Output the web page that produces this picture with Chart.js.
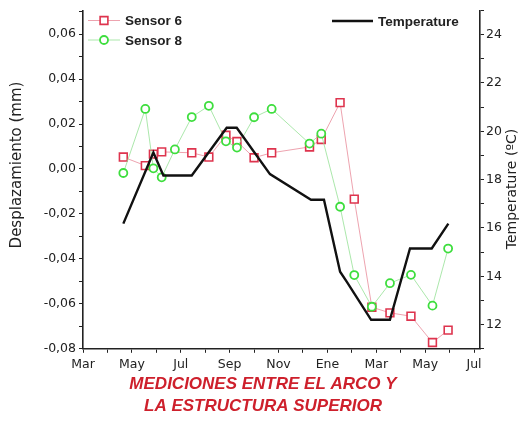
<!DOCTYPE html>
<html>
<head>
<meta charset="utf-8">
<script src="https://cdn.jsdelivr.net/npm/chart.js@4.4.1/dist/chart.umd.min.js"></script>
<style>
  body { margin: 0; background: #fff; }
  canvas { display: block; }
</style>
</head>
<body>
<canvas id="myChart" width="526" height="423"></canvas>
<script>
// months counted from January of the first year (Mar = 3, Ene = 13, ...)
var sensorMonths = [4.65, 5.55, 5.88, 6.22, 6.76, 7.45, 8.15, 8.85, 9.3, 10.0,
  10.72, 12.27, 12.75, 13.52, 14.1, 14.82, 15.56, 16.42, 17.3, 17.94];
var sensor6 = [0.0053, 0.0015, 0.0066, 0.0076, null, 0.0072, 0.0053, 0.015, 0.0122, 0.005,
  0.0072, 0.0098, 0.0131, 0.0295, -0.0134, -0.0615, -0.064, -0.0655, -0.0772, -0.0717];
var sensor8 = [-0.0018, 0.0267, 0.0003, -0.0037, 0.0087, 0.0231, 0.0281, 0.0123, 0.0095, 0.023,
  0.0267, 0.0113, 0.0157, -0.0168, -0.0472, -0.0613, -0.0508, -0.0471, -0.0608, -0.0354];

var tempMonths = [4.65, 5.88, 6.29, 7.45, 8.88, 9.29, 10.65, 12.33, 12.86, 13.52, 13.79,
  14.79, 15.56, 16.38, 17.27, 17.95];
var temperature = [16.18, 19.12, 18.17, 18.17, 20.15, 20.15, 18.23, 17.17, 17.17, 14.19, 13.78,
  12.2, 12.2, 15.15, 15.15, 16.18];

var xTickMonths = [3, 5, 7, 9, 11, 13, 15, 17, 19];
var xTickLabels = ['Mar', 'May', 'Jul', 'Sep', 'Nov', 'Ene', 'Mar', 'May', 'Jul'];

var yTitle = 'Desplazamiento (mm)';
var y2Title = 'Temperature (\u00baC)';
var chartTitle = ['MEDICIONES ENTRE EL ARCO Y', 'LA ESTRUCTURA SUPERIOR'];

function toPoints(xs, ys) {
  var pts = [];
  for (var i = 0; i < xs.length; i++) {
    pts.push({ x: xs[i], y: ys[i] });
  }
  return pts;
}

var RED = 'rgb(222, 52, 78)';
var GREEN = 'rgb(62, 222, 62)';
var tickFont = { family: 'DejaVu Sans', size: 12.5 };

// axis titles and the two legend boxes drawn inside the plot
var overlay = {
  id: 'overlay',
  afterDraw: function (chart) {
    var ctx = chart.ctx;
    ctx.save();
    ctx.fillStyle = '#222';
    ctx.textAlign = 'center';
    ctx.textBaseline = 'middle';
    ctx.font = '15px "DejaVu Sans"';
    ctx.save();
    ctx.translate(17, 165);
    ctx.rotate(-Math.PI / 2);
    ctx.fillText(yTitle, 0, 0);
    ctx.restore();
    ctx.save();
    ctx.translate(512, 189);
    ctx.rotate(-Math.PI / 2);
    ctx.font = '14px "DejaVu Sans"';
    ctx.fillText(y2Title, 0, 0);
    ctx.restore();

    var entries = [
      { ds: 1, x: 88, y: 20.5, len: 32 },
      { ds: 2, x: 88, y: 40, len: 32 },
      { ds: 0, x: 332, y: 21, len: 41 }
    ];
    ctx.textAlign = 'left';
    ctx.font = 'bold 13.5px "Liberation Sans"';
    entries.forEach(function (e) {
      var ds = chart.data.datasets[e.ds];
      ctx.strokeStyle = ds.borderColor;
      ctx.lineWidth = ds.borderWidth;
      ctx.beginPath();
      ctx.moveTo(e.x, e.y);
      ctx.lineTo(e.x + e.len, e.y);
      ctx.stroke();
      if (ds.pointRadius > 0) {
        ctx.fillStyle = '#fff';
        ctx.strokeStyle = ds.pointBorderColor;
        ctx.lineWidth = ds.pointBorderWidth;
        Chart.helpers.drawPoint(ctx, {
          pointStyle: ds.pointStyle, radius: ds.pointRadius, rotation: 0,
          borderWidth: ds.pointBorderWidth
        }, e.x + e.len / 2, e.y);
      }
      ctx.fillStyle = '#222';
      ctx.fillText(ds.label, e.x + e.len + 5, e.y + 1);
    });
    ctx.restore();
  }
};

new Chart(document.getElementById('myChart'), {
  type: 'line',
  data: {
    datasets: [{
      label: 'Temperature',
      data: toPoints(tempMonths, temperature),
      yAxisID: 'y2',
      borderColor: '#111',
      borderWidth: 2.4,
      pointRadius: 0,
      tension: 0,
      order: 1
    }, {
      label: 'Sensor 6',
      data: toPoints(sensorMonths, sensor6),
      yAxisID: 'y',
      borderColor: 'rgba(232, 140, 155, 0.8)',
      borderWidth: 1,
      pointStyle: 'rect',
      pointRadius: 5.5,
      pointBorderColor: RED,
      pointBackgroundColor: '#fff',
      pointBorderWidth: 1.6,
      spanGaps: true,
      tension: 0,
      order: 3
    }, {
      label: 'Sensor 8',
      data: toPoints(sensorMonths, sensor8),
      yAxisID: 'y',
      borderColor: 'rgba(150, 225, 150, 0.8)',
      borderWidth: 1,
      pointStyle: 'circle',
      pointRadius: 4,
      pointBorderColor: GREEN,
      pointBackgroundColor: '#fff',
      pointBorderWidth: 1.8,
      tension: 0,
      order: 2
    }]
  },
  options: {
    responsive: false,
    animation: false,
    layout: { padding: { top: 9 } },
    plugins: {
      legend: { display: false },
      tooltip: { enabled: false },
      title: {
        display: true,
        position: 'bottom',
        text: chartTitle,
        color: 'rgb(206, 32, 44)',
        font: { family: 'Liberation Sans', size: 17, weight: 'bold', style: 'italic', lineHeight: 1.3 },
        padding: { top: 0, bottom: 6 }
      }
    },
    scales: {
      x: {
        type: 'linear',
        min: 3,
        max: 19.245,
        afterFit: function (s) { s.height = 24; },
        border: { color: '#222', width: 1.6 },
        grid: { drawOnChartArea: false, color: '#222', tickLength: 4 },
        ticks: {
          stepSize: 1,
          includeBounds: false,
          autoSkip: false,
          maxRotation: 0,
          padding: 4,
          color: '#222',
          font: tickFont,
          callback: function (v) {
            var i = xTickMonths.indexOf(v);
            return i < 0 ? '' : xTickLabels[i];
          }
        }
      },
      y: {
        position: 'left',
        min: -0.08,
        max: 0.0705,
        afterFit: function (s) { s.width = 83; },
        border: { color: '#222', width: 1.6 },
        grid: { drawOnChartArea: false, color: '#222', tickLength: 4 },
        ticks: {
          stepSize: 0.01,
          includeBounds: false,
          autoSkip: false,
          padding: 3,
          color: '#222',
          font: tickFont,
          callback: function (v) {
            var n = Math.round(v * 100);
            if (n % 2 !== 0) return '';
            return (n / 100).toFixed(2).replace('.', ',');
          }
        }
      },
      y2: {
        position: 'right',
        min: 11,
        max: 25,
        afterFit: function (s) { s.width = 46; },
        border: { color: '#222', width: 1.6 },
        grid: { drawOnChartArea: false, color: '#222', tickLength: 4 },
        ticks: {
          stepSize: 1,
          includeBounds: false,
          autoSkip: false,
          padding: 2,
          color: '#222',
          font: tickFont,
          callback: function (v) {
            return v % 2 === 0 ? String(v) : '';
          }
        }
      }
    }
  },
  plugins: [overlay]
});
</script>
</body>
</html>
